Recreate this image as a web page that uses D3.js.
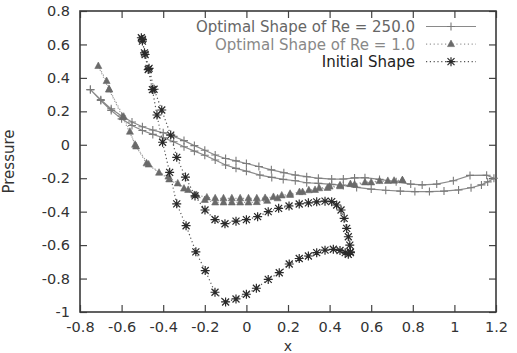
<!DOCTYPE html>
<html>
<head>
<meta charset="utf-8">
<script src="https://cdn.jsdelivr.net/npm/d3@7"></script>
<style>
  body { margin: 0; background: #fff; }
  svg { display: block; }
</style>
</head>
<body>
<svg id="chart" width="517" height="353"></svg>
<script>
// ---- data ----
const xTicks = [-0.8, -0.6, -0.4, -0.2, 0, 0.2, 0.4, 0.6, 0.8, 1, 1.2];
const yTicks = [-1, -0.8, -0.6, -0.4, -0.2, 0, 0.2, 0.4, 0.6, 0.8];

const seriesNames = ["Optimal Shape of Re = 250.0", "Optimal Shape of Re = 1.0", "Initial Shape"];

// Re = 250 : leading edge -> upper branch -> trailing edge -> lower branch -> leading edge
const re250 = [
  [-0.75, 0.33], [-0.70, 0.27], [-0.65, 0.215], [-0.60, 0.172], [-0.55, 0.136], [-0.50, 0.108],
  [-0.45, 0.088], [-0.40, 0.072], [-0.35, 0.05], [-0.30, 0.025], [-0.25, -0.005], [-0.20, -0.033],
  [-0.15, -0.061], [-0.10, -0.082], [-0.05, -0.096], [0.0, -0.112], [0.06, -0.13], [0.12, -0.15],
  [0.18, -0.167], [0.235, -0.181], [0.29, -0.191], [0.346, -0.20], [0.41, -0.205], [0.466, -0.205],
  [0.52, -0.198], [0.57, -0.197], [0.64, -0.207], [0.72, -0.221], [0.79, -0.235], [0.845, -0.24],
  [0.915, -0.235], [0.995, -0.215], [1.075, -0.183], [1.155, -0.182], [1.19, -0.20],
  [1.16, -0.222], [1.13, -0.24], [1.08, -0.257], [1.02, -0.27], [0.95, -0.277], [0.88, -0.28],
  [0.81, -0.28], [0.74, -0.277], [0.67, -0.272], [0.60, -0.265], [0.53, -0.255], [0.466, -0.243],
  [0.41, -0.237], [0.346, -0.231], [0.29, -0.227], [0.235, -0.215], [0.177, -0.207], [0.122, -0.195],
  [0.065, -0.181], [0.0, -0.158], [-0.05, -0.141], [-0.10, -0.121], [-0.15, -0.091], [-0.20, -0.063],
  [-0.25, -0.038], [-0.30, -0.012], [-0.35, 0.018], [-0.40, 0.042], [-0.45, 0.062], [-0.50, 0.085],
  [-0.55, 0.115], [-0.60, 0.155], [-0.65, 0.205], [-0.70, 0.265], [-0.75, 0.33]
];

// Re = 1 : trailing edge -> upper row -> leading edge -> lower row -> trailing edge
const re1 = [
  [0.75, -0.212], [0.71, -0.215], [0.64, -0.217], [0.57, -0.225], [0.50, -0.235], [0.45, -0.242],
  [0.40, -0.25], [0.35, -0.26], [0.30, -0.272], [0.255, -0.283], [0.21, -0.293], [0.17, -0.303],
  [0.13, -0.312], [0.09, -0.318], [0.05, -0.32], [0.01, -0.32], [-0.03, -0.32], [-0.07, -0.32],
  [-0.11, -0.32], [-0.15, -0.32], [-0.19, -0.315], [-0.24, -0.30], [-0.28, -0.27], [-0.33, -0.231],
  [-0.375, -0.19], [-0.42, -0.167], [-0.48, -0.111], [-0.535, 0.0], [-0.56, 0.078], [-0.59, 0.168],
  [-0.66, 0.332], [-0.672, 0.381], [-0.712, 0.471],
  [-0.66, 0.33], [-0.595, 0.165], [-0.53, -0.01], [-0.47, -0.118], [-0.371, -0.207], [-0.30, -0.262],
  [-0.25, -0.30], [-0.20, -0.33], [-0.15, -0.345], [-0.11, -0.345], [-0.07, -0.345], [-0.03, -0.345],
  [0.01, -0.345], [0.05, -0.343], [0.10, -0.335], [0.15, -0.32], [0.21, -0.30], [0.27, -0.283],
  [0.33, -0.27], [0.39, -0.258], [0.45, -0.248], [0.52, -0.238], [0.60, -0.225], [0.68, -0.216],
  [0.75, -0.212]
];

// initial shape : trailing edge -> upper branch -> leading edge -> lower branch -> trailing edge
const initial = [
  [0.50, -0.64], [0.497, -0.60], [0.49, -0.55], [0.482, -0.50], [0.47, -0.44], [0.455, -0.39],
  [0.434, -0.36], [0.41, -0.34], [0.378, -0.337], [0.338, -0.341], [0.298, -0.347], [0.254, -0.354],
  [0.205, -0.366], [0.155, -0.38], [0.105, -0.40], [0.054, -0.43], [0.0, -0.448], [-0.05, -0.457],
  [-0.103, -0.472], [-0.151, -0.447], [-0.199, -0.39], [-0.247, -0.306], [-0.293, -0.193],
  [-0.335, -0.075], [-0.364, 0.058], [-0.407, 0.208], [-0.444, 0.332], [-0.468, 0.457],
  [-0.487, 0.54], [-0.50, 0.62], [-0.505, 0.64],
  [-0.50, 0.63], [-0.49, 0.55], [-0.472, 0.45], [-0.452, 0.33], [-0.43, 0.178], [-0.403, 0.015],
  [-0.369, -0.165], [-0.335, -0.353], [-0.29, -0.484], [-0.243, -0.64], [-0.198, -0.752],
  [-0.151, -0.882], [-0.10, -0.94], [-0.05, -0.922], [0.0, -0.894], [0.048, -0.858], [0.105, -0.805],
  [0.158, -0.765], [0.206, -0.713], [0.254, -0.68], [0.298, -0.665], [0.338, -0.645], [0.378, -0.63],
  [0.418, -0.625], [0.45, -0.632], [0.475, -0.645], [0.49, -0.655], [0.50, -0.645]
];

// ---- chart ----
const svg = d3.select("#chart");
const plotLeft = 80, plotRight = 496, plotTop = 11, plotBottom = 312;
const font = "DejaVu Sans, sans-serif";

const x = d3.scaleLinear().domain([-0.8, 1.2]).range([plotLeft, plotRight]);
const y = d3.scaleLinear().domain([-1, 0.8]).range([plotBottom, plotTop]);

const fmt = function(v) { return String(+v.toFixed(1)); };

function styleAxis(g) {
  g.select(".domain").remove();
  g.selectAll(".tick line").attr("stroke", "#444").attr("stroke-width", 1.2);
  g.selectAll(".tick text").attr("fill", "#333")
    .style("font-family", font).style("font-size", "14.5px");
}

svg.append("g").attr("transform", "translate(0," + plotBottom + ")")
  .call(d3.axisBottom(x).tickValues(xTicks).tickFormat(fmt).tickSizeInner(-7).tickSizeOuter(0).tickPadding(10))
  .call(styleAxis);
svg.append("g").attr("transform", "translate(" + plotLeft + ",0)")
  .call(d3.axisLeft(y).tickValues(yTicks).tickFormat(fmt).tickSizeInner(-7).tickSizeOuter(0).tickPadding(10))
  .call(styleAxis);
svg.append("g").attr("transform", "translate(0," + plotTop + ")")
  .call(d3.axisTop(x).tickValues(xTicks).tickFormat("").tickSizeInner(-7).tickSizeOuter(0))
  .call(styleAxis);
svg.append("g").attr("transform", "translate(" + plotRight + ",0)")
  .call(d3.axisRight(y).tickValues(yTicks).tickFormat("").tickSizeInner(-7).tickSizeOuter(0))
  .call(styleAxis);

svg.append("rect")
  .attr("x", plotLeft).attr("y", plotTop)
  .attr("width", plotRight - plotLeft).attr("height", plotBottom - plotTop)
  .attr("fill", "none").attr("stroke", "#3a3a3a").attr("stroke-width", 1.6);

// axis titles
svg.append("text")
  .attr("transform", "translate(14," + ((plotTop + plotBottom) / 2) + ") rotate(-90)")
  .attr("text-anchor", "middle")
  .attr("fill", "#333")
  .style("font-family", font).style("font-size", "15px")
  .text("Pressure");
svg.append("text")
  .attr("x", (plotLeft + plotRight) / 2).attr("y", 351)
  .attr("text-anchor", "middle")
  .attr("fill", "#333")
  .style("font-family", font).style("font-size", "14px")
  .text("x");

// markers
function plusMark(g, px, py, col) {
  g.append("path").attr("d", "M" + (px - 4) + "," + py + "h8M" + px + "," + (py - 4) + "v8")
    .attr("stroke", col).attr("stroke-width", 1.1).attr("fill", "none");
}
function triMark(g, px, py, col) {
  g.append("path").attr("d", "M" + px + "," + (py - 4) + "L" + (px + 3.5) + "," + (py + 2.5) + "L" + (px - 3.5) + "," + (py + 2.5) + "Z")
    .attr("fill", col).attr("stroke", col).attr("stroke-width", 0.6);
}
function starMark(g, px, py, col) {
  g.append("path").attr("d",
      "M" + (px - 4.5) + "," + py + "h9M" + px + "," + (py - 4.5) + "v9" +
      "M" + (px - 3.5) + "," + (py - 3.5) + "l7,7M" + (px - 3.5) + "," + (py + 3.5) + "l7,-7")
    .attr("stroke", col).attr("stroke-width", 1.2).attr("fill", "none");
}

const styles = [
  { data: re250, line: "#8a8a8a", dash: null, width: 1.2, mark: plusMark, markCol: "#7a7a7a", text: "#666" },
  { data: re1, line: "#9a9a9a", dash: "1.2,2.6", width: 1.2, mark: triMark, markCol: "#6a6a6a", text: "#888" },
  { data: initial, line: "#555", dash: "1.2,2.6", width: 1.2, mark: starMark, markCol: "#2a2a2a", text: "#222" }
];

const line = d3.line().x(function(d) { return x(d[0]); }).y(function(d) { return y(d[1]); });

const plot = svg.append("g");
styles.forEach(function(s) {
  const path = plot.append("path").datum(s.data)
    .attr("d", line)
    .attr("fill", "none")
    .attr("stroke", s.line)
    .attr("stroke-width", s.width);
  if (s.dash) path.attr("stroke-dasharray", s.dash);
  const mg = plot.append("g");
  s.data.forEach(function(d) { s.mark(mg, x(d[0]), y(d[1]), s.markCol); });
});

// legend
const legend = svg.append("g");
styles.forEach(function(s, i) {
  const ly = 26.5 + i * 17.6;
  legend.append("text")
    .attr("x", 415).attr("y", ly).attr("dy", "0.36em")
    .attr("text-anchor", "end")
    .attr("fill", s.text)
    .style("font-family", font).style("font-size", "15px")
    .text(seriesNames[i]);
  const ln = legend.append("line")
    .attr("x1", 426).attr("x2", 476).attr("y1", ly).attr("y2", ly)
    .attr("stroke", s.line).attr("stroke-width", s.width);
  if (s.dash) ln.attr("stroke-dasharray", s.dash);
  s.mark(legend, 451, ly, s.markCol);
});
</script>
</body>
</html>
